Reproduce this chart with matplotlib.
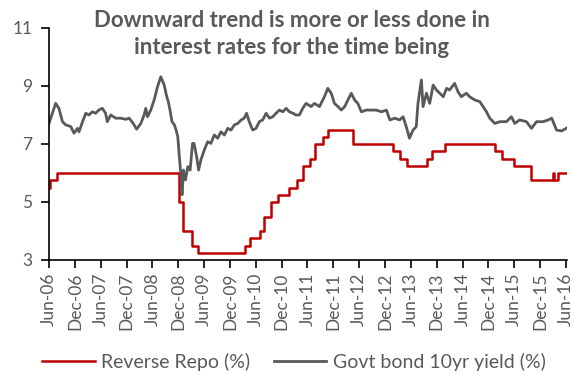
import matplotlib
matplotlib.use("Agg")
import matplotlib.pyplot as plt
import matplotlib.dates as mdates
import pandas as pd

# Reverse repo rate (%) - step changes
repo_dates = ["2006-06-01", "2006-06-09", "2006-07-25", "2008-12-08", "2009-01-05",
              "2009-03-05", "2009-04-21", "2010-03-19", "2010-04-20", "2010-07-02",
              "2010-07-27", "2010-09-16", "2010-11-02", "2011-01-25", "2011-03-17",
              "2011-05-03", "2011-06-16", "2011-07-26", "2011-09-16", "2011-10-25",
              "2012-04-17", "2013-01-29", "2013-03-19", "2013-05-03", "2013-09-20",
              "2013-10-29", "2014-01-28", "2015-01-15", "2015-03-04", "2015-06-02",
              "2015-09-29", "2016-03-01", "2016-03-08", "2016-04-05", "2016-06-08"]
repo_values = [5.5, 5.75, 6.0, 5.0, 4.0,
               3.5, 3.25, 3.5, 3.75, 4.0,
               4.5, 5.0, 5.25, 5.5, 5.75,
               6.25, 6.5, 7.0, 7.25, 7.5,
               7.0, 6.75, 6.5, 6.25, 6.5,
               6.75, 7.0, 6.75, 6.5, 6.25,
               5.75, 6.0, 5.75, 6.0, 6.0]

# Govt bond 10yr yield (%)
bond_dates = ["2006-06-01", "2006-07-18", "2006-08-10", "2006-09-04", "2006-09-27",
              "2006-11-02", "2006-11-25", "2006-12-19", "2006-12-30", "2007-01-24",
              "2007-02-16", "2007-03-10", "2007-04-03", "2007-04-26", "2007-05-19",
              "2007-06-13", "2007-07-06", "2007-07-18", "2007-08-11", "2007-09-16",
              "2007-10-21", "2007-11-26", "2007-12-19", "2008-01-17", "2008-02-10",
              "2008-03-11", "2008-04-03", "2008-04-15", "2008-04-27", "2008-05-20",
              "2008-06-13", "2008-07-07", "2008-07-30", "2008-08-23", "2008-09-10",
              "2008-09-21", "2008-10-03", "2008-10-17", "2008-11-03", "2008-11-15",
              "2008-11-27", "2008-12-08", "2008-12-20", "2008-12-27", "2009-01-06",
              "2009-01-20", "2009-02-06", "2009-02-22", "2009-03-11", "2009-03-22",
              "2009-04-09", "2009-04-23", "2009-05-09", "2009-06-02", "2009-06-26",
              "2009-07-19", "2009-08-12", "2009-09-05", "2009-09-28", "2009-10-22",
              "2009-11-15", "2009-12-08", "2010-01-01", "2010-01-25", "2010-02-18",
              "2010-03-11", "2010-03-28", "2010-04-16", "2010-05-10", "2010-06-03",
              "2010-06-26", "2010-07-20", "2010-08-13", "2010-09-06", "2010-09-29",
              "2010-10-22", "2010-11-15", "2010-12-09", "2011-01-02", "2011-01-25",
              "2011-02-19", "2011-03-12", "2011-04-05", "2011-04-29", "2011-05-22",
              "2011-06-27", "2011-07-20", "2011-08-25", "2011-09-29", "2011-10-23",
              "2011-11-16", "2011-12-09", "2012-01-03", "2012-01-26", "2012-02-19",
              "2012-03-13", "2012-04-06", "2012-04-29", "2012-05-22", "2012-06-16",
              "2012-07-20", "2012-08-25", "2012-09-30", "2012-11-05", "2012-12-10",
              "2013-01-03", "2013-02-08", "2013-03-13", "2013-04-07", "2013-04-29",
              "2013-05-22", "2013-06-16", "2013-07-09", "2013-07-21", "2013-08-14",
              "2013-08-26", "2013-09-19", "2013-10-12", "2013-11-05", "2013-11-29",
              "2014-01-16", "2014-02-08", "2014-03-01", "2014-04-06", "2014-04-30",
              "2014-05-23", "2014-06-28", "2014-07-21", "2014-08-26", "2014-10-01",
              "2014-10-24", "2014-11-17", "2014-12-10", "2015-01-15", "2015-02-20",
              "2015-04-07", "2015-05-12", "2015-06-05", "2015-07-10", "2015-08-26",
              "2015-10-01", "2015-11-06", "2015-12-23", "2016-01-28", "2016-02-21",
              "2016-03-26", "2016-05-01", "2016-06-06"]
bond_values = [7.71, 8.40, 8.23, 7.77, 7.66,
               7.60, 7.37, 7.54, 7.42, 7.77,
               8.06, 8.00, 8.11, 8.06, 8.17,
               8.23, 8.06, 7.77, 8.00, 7.89,
               7.89, 7.85, 7.89, 7.71, 7.51,
               7.71, 8.00, 8.23, 7.94, 8.17,
               8.52, 8.98, 9.32, 9.03, 8.63,
               8.46, 8.17, 7.77, 7.66, 7.48,
               7.25, 6.56, 5.87, 5.25, 6.10,
               5.76, 6.22, 6.10, 7.02, 7.02,
               6.56, 6.10, 6.45, 6.79, 7.08,
               7.02, 7.31, 7.20, 7.42, 7.31,
               7.54, 7.48, 7.66, 7.71, 7.83,
               7.89, 8.06, 7.77, 7.48, 7.54,
               7.77, 7.83, 8.06, 7.89, 7.94,
               8.06, 8.17, 8.11, 8.23, 8.11,
               8.06, 8.00, 8.00, 8.23, 8.40,
               8.29, 8.40, 8.29, 8.63, 8.92,
               8.75, 8.40, 8.29, 8.17, 8.29,
               8.52, 8.75, 8.52, 8.40, 8.11,
               8.17, 8.17, 8.17, 8.11, 8.17,
               7.83, 7.89, 7.83, 7.94, 7.60,
               7.20, 7.48, 7.60, 8.40, 9.21,
               8.29, 8.75, 8.40, 9.03, 8.86,
               8.63, 8.92, 8.86, 9.09, 8.80,
               8.63, 8.75, 8.63, 8.52, 8.46,
               8.29, 8.11, 7.89, 7.71, 7.77,
               7.77, 7.94, 7.71, 7.83, 7.77,
               7.54, 7.77, 7.77, 7.83, 7.89,
               7.48, 7.45, 7.55]

title_lines = "Downward trend is more or less done in\ninterest rates for the time being"
series_names = ["Reverse Repo (%)", "Govt bond 10yr yield (%)"]
y_ticks = [3, 5, 7, 9, 11]

RED = "#C00000"
GRAY = "#595959"
plt.rcParams["font.family"] = ["Lato", "DejaVu Sans"]

fig = plt.figure(figsize=(5.74, 3.74), dpi=100)
ax = fig.add_axes([49 / 574, 114 / 374, 518 / 574, 232 / 374])

rd = pd.to_datetime(repo_dates)
bd = pd.to_datetime(bond_dates)
ax.plot(rd, repo_values, drawstyle="steps-post", color=RED, lw=1.8, label=series_names[0])
ax.plot(bd, bond_values, color=GRAY, lw=2.0, label=series_names[1])

ax.set_ylim(3, 11)
ax.set_yticks(y_ticks)
ax.set_xlim(pd.Timestamp("2006-06-01"), pd.Timestamp("2016-06-08"))
ax.xaxis.set_major_locator(mdates.MonthLocator(bymonth=[6, 12]))
ax.xaxis.set_major_formatter(mdates.DateFormatter("%b-%y"))

for s in ["top", "right"]:
    ax.spines[s].set_visible(False)
for s in ["left", "bottom"]:
    ax.spines[s].set_color("black")
    ax.spines[s].set_linewidth(1.2)
ax.tick_params(axis="both", direction="out", length=6, width=1.2, color="black",
               labelcolor=GRAY, labelsize=12.5)
ax.tick_params(axis="x", labelrotation=90, pad=3)
ax.tick_params(axis="y", pad=6)

fig.text(292 / 574, 1 - 34 / 374, title_lines, ha="center", va="center",
         fontsize=16, fontweight="bold", color=GRAY, linespacing=1.3)

fig.legend(loc="center", bbox_to_anchor=(294 / 574, 12 / 374), ncol=2, frameon=False,
           fontsize=14, handlelength=2.7, columnspacing=1.2, handletextpad=0.35,
           labelcolor=GRAY)

fig.savefig("out.png", dpi=100)
